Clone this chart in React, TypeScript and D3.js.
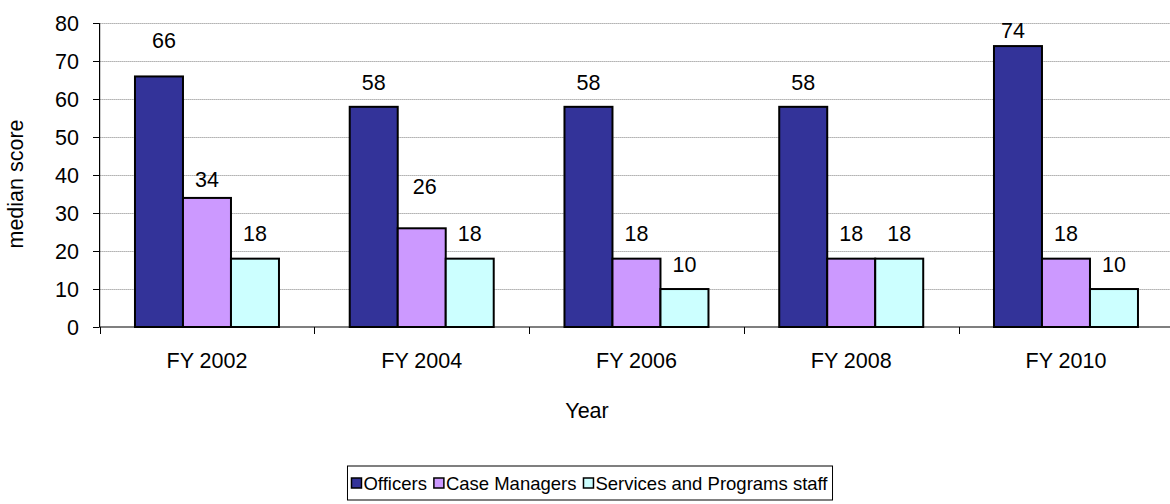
import React from 'react'
import * as d3 from 'd3'

// chart data
const years = ['FY 2002', 'FY 2004', 'FY 2006', 'FY 2008', 'FY 2010']
const seriesNames = ['Officers', 'Case Managers', 'Services and Programs staff']
const officers = [66, 58, 58, 58, 74]
const caseManagers = [34, 26, 18, 18, 18]
const servicesStaff = [18, 18, 10, 18, 10]
const yTicks = [0, 10, 20, 30, 40, 50, 60, 70, 80]

const colors = ['#333399', '#CC99FF', '#CCFFFF']

// label nudges (px above bar top, x shift) where the original labels were moved by hand
const labelLift: Record<string, [number, number]> = {
    '0-0': [36, 5],
    '0-1': [19, 0],
    '1-1': [42, 3],
    '4-0': [16, -5],
}

const W = 1170
const H = 504
const FONT = "'Liberation Sans', Arial, sans-serif"
const FS = 21.5

function textWidth(s: string, size: number) {
    const c = document.createElement('canvas').getContext('2d')
    if (!c) return s.length * size * 0.55
    c.font = `${size}px ${FONT}`
    return c.measureText(s).width
}

export default function App() {
    const values = [officers, caseManagers, servicesStaff]

    const margin = { left: 99.6, top: 23.3, bottom: 327 }
    const plotRight = margin.left + 5 * 214.75

    const x0 = d3.scaleBand()
        .domain(years)
        .range([margin.left, plotRight])

    const groupW = 144
    const x1 = d3.scaleBand()
        .domain(seriesNames)
        .range([0, groupW])

    const y = d3.scaleLinear()
        .domain([0, 80])
        .range([margin.bottom, margin.top])

    const groupStart = (yr: string) => x0(yr)! + (x0.bandwidth() - groupW) / 2

    // legend layout
    const lfs = 18.5
    const sq = 10
    const items = seriesNames.map(n => ({ n, w: sq + 3 + textWidth(n, lfs) }))
    const gap = 6
    const legW = d3.sum(items, d => d.w) + gap * (items.length - 1) + 8
    const legX = 590 - legW / 2
    const legY = 466
    const legH = 34
    let cursor = legX + 4

    return (
        <svg width={W} height={H} style={{ position: 'absolute', left: 0, top: 0, fontFamily: FONT }}>
            <rect width={W} height={H} fill="#fff" />

            {/* gridlines */}
            {yTicks.filter(t => t > 0).map(t => (
                <line key={`g${t}`} x1={margin.left} x2={W} y1={Math.round(y(t)) + 0.5} y2={Math.round(y(t)) + 0.5}
                    stroke="#808080" strokeDasharray="1,1" />
            ))}

            {/* y ticks and labels */}
            {yTicks.map(t => (
                <g key={`t${t}`}>
                    <line x1={93} x2={margin.left} y1={Math.round(y(t)) + 0.5} y2={Math.round(y(t)) + 0.5} stroke="#000" />
                    <text x={79} y={y(t)} dy="0.36em" textAnchor="end" fontSize={FS}>{t}</text>
                </g>
            ))}

            {/* bars */}
            {years.map((yr, i) => (
                <g key={yr} transform={`translate(${groupStart(yr)},0)`}>
                    {seriesNames.map((s, j) => (
                        <rect key={s} x={x1(s)} y={y(values[j][i])} width={x1.bandwidth()}
                            height={y(0) - y(values[j][i])} fill={colors[j]} stroke="#000" strokeWidth={2} />
                    ))}
                </g>
            ))}

            {/* value labels */}
            {years.map((yr, i) => seriesNames.map((s, j) => {
                const [lift, dx] = labelLift[`${i}-${j}`] || [25, 0]
                const cx = groupStart(yr) + x1(s)! + x1.bandwidth() / 2 + dx
                return (
                    <text key={`l${i}${j}`} x={cx} y={y(values[j][i]) - lift} dy="0.36em"
                        textAnchor="middle" fontSize={FS}>{values[j][i]}</text>
                )
            }))}

            {/* axes */}
            <line x1={margin.left} x2={margin.left} y1={margin.top} y2={margin.bottom} stroke="#000" strokeWidth={1.2} />
            <line x1={margin.left} x2={W} y1={margin.bottom} y2={margin.bottom} stroke="#000" strokeWidth={1.2} />
            {[...years.map(yr => x0(yr)!), plotRight].map((xv, k) => (
                <line key={`xt${k}`} x1={Math.round(xv) + 0.5} x2={Math.round(xv) + 0.5}
                    y1={margin.bottom} y2={margin.bottom + 7} stroke="#000" />
            ))}
            {years.map(yr => (
                <text key={`xl${yr}`} x={groupStart(yr) + groupW / 2} y={360} dy="0.36em"
                    textAnchor="middle" fontSize={FS}>{yr}</text>
            ))}

            {/* axis titles */}
            <text x={587} y={410} dy="0.36em" textAnchor="middle" fontSize={FS}>Year</text>
            <text transform={`translate(15,184) rotate(-90)`} dy="0.36em"
                textAnchor="middle" fontSize={FS}>median score</text>

            {/* legend */}
            <rect x={legX} y={legY} width={legW} height={legH} fill="#fff" stroke="#000" />
            {items.map((it, j) => {
                const x = cursor
                cursor += it.w + gap
                return (
                    <g key={it.n}>
                        <rect x={x} y={legY + legH / 2 - sq / 2} width={sq} height={sq} fill={colors[j]} stroke="#000" strokeWidth={1.5} />
                        <text x={x + sq + 2} y={legY + legH / 2} dy="0.36em" fontSize={lfs}>{it.n}</text>
                    </g>
                )
            })}
        </svg>
    )
}
